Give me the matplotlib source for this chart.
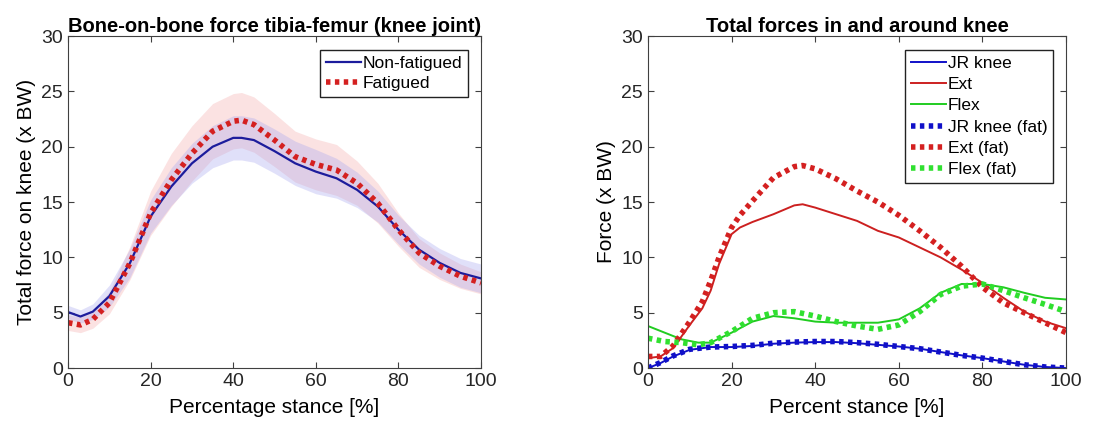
import matplotlib.pyplot as plt
import numpy as np

plt.rcParams['font.family'] = ['Liberation Sans', 'DejaVu Sans']

# left panel: bone-on-bone force
stance_l = [0, 3, 6, 10, 15, 20, 25, 30, 35, 40, 42, 45, 50, 55, 60, 65, 70, 75, 80, 85, 90, 95, 100]
nonfat = [5.06, 4.66, 5.1, 6.5, 9.5, 13.7, 16.4, 18.5, 20.0, 20.8, 20.8, 20.6, 19.6, 18.5, 17.75, 17.15,
          16.1, 14.6, 12.5, 10.7, 9.5, 8.6, 8.1]
nonfat_sd = [0.6, 0.6, 0.7, 1.0, 1.3, 1.5, 1.7, 1.8, 1.9, 2.0, 2.0, 2.0, 2.0, 2.0, 2.0, 1.8,
             1.6, 1.4, 1.3, 1.3, 1.3, 1.3, 1.3]
fat = [4.1, 3.9, 4.4, 5.9, 9.5, 14.0, 17.0, 19.4, 21.4, 22.3, 22.4, 22.0, 20.6, 19.1, 18.4, 17.9,
       16.7, 14.9, 12.5, 10.4, 9.2, 8.3, 7.7]
fat_sd = [0.7, 0.7, 0.8, 1.0, 1.5, 2.0, 2.4, 2.5, 2.5, 2.5, 2.5, 2.5, 2.4, 2.3, 2.3, 2.3,
          2.0, 1.8, 1.5, 1.3, 1.2, 1.1, 1.0]

# right panel: total forces in and around knee
stance_r = [0, 3, 6, 10, 13, 15, 17, 20, 22, 25, 30, 35, 37, 40, 45, 50, 55, 60, 65, 70, 75, 80, 85, 90, 95, 100]
ext = [0.9, 1.05, 1.8, 3.9, 5.4, 7.0, 9.4, 12.1, 12.7, 13.2, 13.9, 14.7, 14.8, 14.5, 13.9, 13.3, 12.4,
       11.8, 10.9, 10.0, 8.9, 7.7, 6.35, 5.1, 4.2, 3.6]
ext_fat = [1.05, 1.05, 2.0, 4.2, 6.0, 7.9, 10.0, 12.7, 13.8, 15.1, 17.2, 18.2, 18.3, 18.0, 17.1, 16.0,
           15.0, 13.8, 12.4, 10.9, 9.2, 7.3, 5.9, 5.0, 4.1, 3.2]

stance_f = [0, 4, 8, 12, 15, 20, 25, 30, 35, 40, 45, 50, 55, 60, 65, 70, 75, 80, 85, 90, 95, 100]
flex = [3.8, 3.2, 2.6, 2.3, 2.3, 3.2, 4.2, 4.7, 4.5, 4.2, 4.1, 4.1, 4.1, 4.4, 5.4, 6.8, 7.6, 7.6,
        7.3, 6.8, 6.35, 6.2]
flex_fat = [2.7, 2.4, 2.3, 2.1, 2.3, 3.3, 4.5, 5.0, 5.1, 4.7, 4.2, 3.8, 3.5, 3.9, 5.1, 6.65, 7.4, 7.6,
            7.0, 6.35, 5.75, 5.1]

stance_j = [0, 3, 6, 10, 15, 20, 25, 30, 35, 40, 45, 50, 55, 60, 65, 70, 75, 80, 85, 90, 95, 100]
jr = [0.0, 0.45, 1.05, 1.65, 1.9, 1.9, 2.0, 2.2, 2.3, 2.35, 2.35, 2.25, 2.1, 1.95, 1.75, 1.45,
      1.15, 0.9, 0.6, 0.3, 0.1, 0.0]
jr_fat = [0.0, 0.5, 1.1, 1.7, 1.9, 1.95, 2.05, 2.25, 2.35, 2.4, 2.4, 2.3, 2.15, 1.95, 1.75, 1.45,
          1.15, 0.9, 0.6, 0.3, 0.1, 0.0]

dots = (0, (0.8, 0.8))
fig = plt.figure(figsize=(11.12, 4.29), dpi=100)
ax1 = fig.add_axes([0.0612, 0.142, 0.3714, 0.774])
ax2 = fig.add_axes([0.5827, 0.142, 0.376, 0.774])

nf = np.array(nonfat); nsd = np.array(nonfat_sd)
f = np.array(fat); fsd = np.array(fat_sd)
ax1.fill_between(stance_l, f - fsd, f + fsd, color='#f4a0a0', alpha=0.3, lw=0)
ax1.fill_between(stance_l, nf - nsd, nf + nsd, color='#a8a8f0', alpha=0.35, lw=0)
ax1.plot(stance_l, nonfat, color='#1c1c9c', lw=1.6, label='Non-fatigued')
ax1.plot(stance_l, fat, color='#d42020', lw=4, linestyle=dots, label='Fatigued')
ax1.set_title('Bone-on-bone force tibia-femur (knee joint)', fontsize=14.5, fontweight='bold', pad=3)
ax1.set_ylabel('Total force on knee (x BW)', fontsize=15)
ax1.set_xlabel('Percentage stance [%]', fontsize=15, labelpad=6)
ax1.legend(loc='upper right', fontsize=12.5, handlelength=2.0, handletextpad=0.1, borderpad=0.35,
           labelspacing=0.3, fancybox=False, edgecolor='#222222', framealpha=1,
           bbox_to_anchor=(0.99, 0.985))

ax2.plot(stance_j, jr, color='#1010c8', lw=1.4, label='JR knee')
ax2.plot(stance_r, ext, color='#cc2020', lw=1.4, label='Ext')
ax2.plot(stance_f, flex, color='#20cc20', lw=1.4, label='Flex')
ax2.plot(stance_j, jr_fat, color='#1010c8', lw=4, linestyle=dots, label='JR knee (fat)')
ax2.plot(stance_r, ext_fat, color='#d42020', lw=4, linestyle=dots, label='Ext (fat)')
ax2.plot(stance_f, flex_fat, color='#30e030', lw=4, linestyle=dots, label='Flex (fat)')
ax2.set_title('Total forces in and around knee', fontsize=14.5, fontweight='bold', pad=3)
ax2.set_ylabel('Force (x BW)', fontsize=15)
ax2.set_xlabel('Percent stance [%]', fontsize=15, labelpad=6)
ax2.legend(loc='upper right', fontsize=12.5, handlelength=2.0, handletextpad=0.1, borderpad=0.35,
           labelspacing=0.35, fancybox=False, edgecolor='#222222', framealpha=1,
           bbox_to_anchor=(0.99, 0.985))

for ax in (ax1, ax2):
    ax.set_xlim(0, 100)
    ax.set_ylim(0, 30)
    ax.set_xticks([0, 20, 40, 60, 80, 100])
    ax.set_yticks([0, 5, 10, 15, 20, 25, 30])
    ax.tick_params(direction='in', top=True, right=True, labelsize=14, colors='#404040',
                   labelcolor='#262626', length=4)
    for s in ax.spines.values():
        s.set_color('#404040')
        s.set_linewidth(0.8)

fig.savefig('out.png', dpi=100)
